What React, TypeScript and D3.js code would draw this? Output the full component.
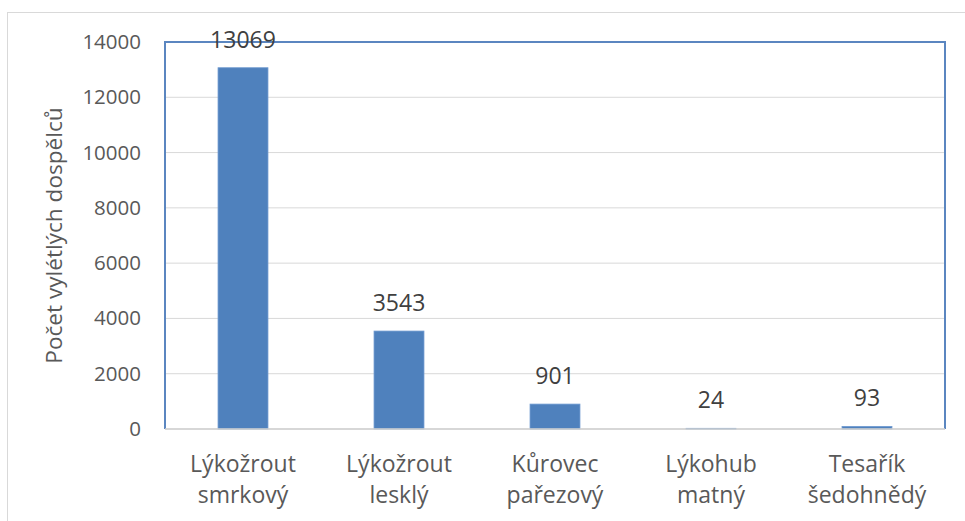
import React from "react";
import * as d3 from "d3";

const categories: string[][] = [
  ["Lýkožrout", "smrkový"],
  ["Lýkožrout", "lesklý"],
  ["Kůrovec", "pařezový"],
  ["Lýkohub", "matný"],
  ["Tesařík", "šedohnědý"],
];
const values: number[] = [13069, 3543, 901, 24, 93];
const yTicks: number[] = [0, 2000, 4000, 6000, 8000, 10000, 12000, 14000];
const yTitle = "Počet vylétlých dospělců";

const W = 965;
const H = 521;
const left = 165;
const right = 945;
const top = 42;
const bottom = 429;
const font = "'Open Sans', sans-serif";
const textColor = "#595959";
const valueColor = "#404040";

export default function App() {
  const x = d3
    .scaleBand<number>()
    .domain(values.map((_, i) => i))
    .range([left, right])
    .paddingInner(0.68)
    .paddingOuter(0.34);
  const y = d3.scaleLinear().domain([0, 14000]).range([bottom, top]);
  const band = (right - left) / values.length;

  return (
    <svg
      width={W}
      height={H}
      style={{ position: "absolute", left: 0, top: 0, background: "#fff" }}
    >
      <rect x={0} y={0} width={W} height={H} fill="#fff" />
      <rect x={7.5} y={12.5} width={W + 10} height={H + 10} fill="none" stroke="#D9D9D9" strokeWidth={1} />
      {yTicks.map((t) => (
        <g key={t}>
          <line x1={left} x2={right} y1={y(t)} y2={y(t)} stroke="#D9D9D9" strokeWidth={1} />
          <text
            x={141}
            y={y(t) + 7}
            textAnchor="end"
            fontFamily={font}
            fontSize={20.5}
            fill={textColor}
          >
            {t}
          </text>
        </g>
      ))}
      {values.map((v, i) => (
        <rect
          key={i}
          x={x(i)}
          y={y(v)}
          width={x.bandwidth()}
          height={bottom - y(v)}
          fill="#4F81BD"
          stroke="#6F9AD0"
          strokeWidth={0.8}
        />
      ))}
      <polyline
        points={`${left},${bottom} ${left},${top} ${right},${top} ${right},${bottom}`}
        fill="none"
        stroke="#5B86C0"
        strokeWidth={2}
      />
      <line x1={left} x2={right} y1={bottom} y2={bottom} stroke="#D0D0D0" strokeWidth={1.5} />
      {values.map((v, i) => (
        <text
          key={i}
          x={(x(i) as number) + x.bandwidth() / 2}
          y={y(v) - 20}
          textAnchor="middle"
          fontFamily={font}
          fontSize={23}
          fill={valueColor}
        >
          {v}
        </text>
      ))}
      {categories.map((c, i) => (
        <text
          key={i}
          x={left + band * (i + 0.5)}
          textAnchor="middle"
          fontFamily={font}
          fontSize={23}
          fill={textColor}
        >
          <tspan x={left + band * (i + 0.5)} y={472}>
            {c[0]}
          </tspan>
          <tspan x={left + band * (i + 0.5)} y={503}>
            {c[1]}
          </tspan>
        </text>
      ))}
      <text
        transform={`translate(62, ${(top + bottom) / 2}) rotate(-90)`}
        textAnchor="middle"
        fontFamily={font}
        fontSize={22.6}
        fill={textColor}
      >
        {yTitle}
      </text>
    </svg>
  );
}
